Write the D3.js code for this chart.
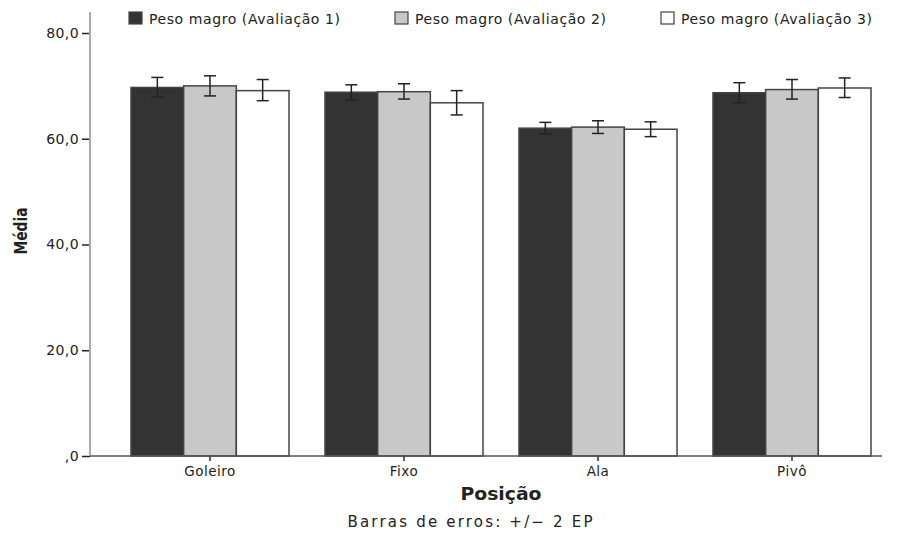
<!DOCTYPE html>
<html>
<head>
<meta charset="utf-8">
<script src="https://cdn.jsdelivr.net/npm/d3@7"></script>
<style>
  html, body { margin: 0; padding: 0; background: #fff; }
  svg { display: block; }
  text { font-family: "DejaVu Sans", Verdana, sans-serif; fill: #222; }
</style>
</head>
<body>
<svg id="chart" width="899" height="536"></svg>
<script>
// Positions (categories) and assessments (series)
const categories = ["Goleiro", "Fixo", "Ala", "Pivô"];
const series = ["Peso magro (Avaliação 1)", "Peso magro (Avaliação 2)", "Peso magro (Avaliação 3)"];

// Mean lean mass per position, one array per assessment
const meansA1 = [69.7, 68.8, 62.0, 68.7];
const meansA2 = [70.0, 68.9, 62.2, 69.3];
const meansA3 = [69.1, 66.8, 61.8, 69.6];

// Error bar bounds (mean ± 2 SE)
const lowA1 = [67.9, 67.3, 60.9, 66.8];
const highA1 = [71.6, 70.2, 63.1, 70.6];
const lowA2 = [68.1, 67.5, 61.0, 67.5];
const highA2 = [71.9, 70.4, 63.4, 71.2];
const lowA3 = [67.2, 64.5, 60.4, 67.8];
const highA3 = [71.2, 69.1, 63.2, 71.5];

const yTicks = [0, 20, 40, 60, 80];
const yTickLabels = [",0", "20,0", "40,0", "60,0", "80,0"];

const fills = ["#333333", "#c8c8c8", "#ffffff"];

const means = [meansA1, meansA2, meansA3];
const lows = [lowA1, lowA2, lowA3];
const highs = [highA1, highA2, highA3];

const rows = [];
categories.forEach((c, ci) => {
  series.forEach((s, si) => {
    rows.push({ cat: c, ser: s, si, mean: means[si][ci], lo: lows[si][ci], hi: highs[si][ci] });
  });
});

const svg = d3.select("#chart");

const y = d3.scaleLinear().domain([0, 80]).range([456, 33]);
const x0 = d3.scaleBand().domain(categories).range([113, 889]).padding(0);
const groupW = 158;
const x1 = d3.scaleBand().domain(series).range([0, groupW]).padding(0);
const xPos = d => x0(d.cat) + (x0.bandwidth() - groupW) / 2 + x1(d.ser);

// Bars
svg.append("g").selectAll("rect").data(rows).join("rect")
  .attr("x", xPos)
  .attr("y", d => y(d.mean))
  .attr("width", x1.bandwidth())
  .attr("height", d => y(0) - y(d.mean))
  .attr("fill", d => fills[d.si])
  .attr("stroke", "#444")
  .attr("stroke-width", 1.5);

// Error bars
const eg = svg.append("g").attr("stroke", "#222").attr("stroke-width", 1.5);
const cx = d => xPos(d) + x1.bandwidth() / 2;
eg.selectAll("line.v").data(rows).join("line").attr("class", "v")
  .attr("x1", cx).attr("x2", cx)
  .attr("y1", d => y(d.hi)).attr("y2", d => y(d.lo));
eg.selectAll("line.t").data(rows).join("line").attr("class", "t")
  .attr("x1", d => cx(d) - 6).attr("x2", d => cx(d) + 6)
  .attr("y1", d => y(d.hi)).attr("y2", d => y(d.hi));
eg.selectAll("line.b").data(rows).join("line").attr("class", "b")
  .attr("x1", d => cx(d) - 6).attr("x2", d => cx(d) + 6)
  .attr("y1", d => y(d.lo)).attr("y2", d => y(d.lo));

// Y axis
const yAxis = d3.axisLeft(y).tickValues(yTicks)
  .tickFormat((d, i) => yTickLabels[i]).tickSize(8).tickPadding(3);
const yg = svg.append("g").attr("transform", "translate(90,0)").call(yAxis);
yg.select(".domain").remove();
yg.selectAll(".tick line").attr("stroke", "#222").attr("stroke-width", 1.5);
yg.selectAll(".tick text").attr("font-size", 14).attr("letter-spacing", 0.4)
  .attr("font-family", "DejaVu Sans").attr("fill", "#222");
svg.append("line").attr("x1", 90).attr("x2", 90).attr("y1", 12).attr("y2", 456)
  .attr("stroke", "#aaa").attr("stroke-width", 2);

// X axis
const xAxis = d3.axisBottom(x0).tickSize(6).tickPadding(4);
const xg = svg.append("g").attr("transform", "translate(0,456)").call(xAxis);
xg.select(".domain").remove();
xg.selectAll(".tick line").attr("stroke", "#333").attr("stroke-width", 1.5).attr("y1", -1).attr("y2", 5);
xg.selectAll(".tick text").attr("font-size", 13.5).attr("letter-spacing", 0.5)
  .attr("font-family", "DejaVu Sans").attr("fill", "#222");

svg.append("line").attr("x1", 90).attr("x2", 882).attr("y1", 456).attr("y2", 456)
  .attr("stroke", "#555").attr("stroke-width", 1.5);

// Axis titles
svg.append("text").attr("transform", "translate(27,231) rotate(-90)")
  .attr("text-anchor", "middle").attr("font-size", 17).attr("font-weight", "bold")
  .attr("textLength", 47).attr("lengthAdjust", "spacingAndGlyphs")
  .text("Média");
svg.append("text").attr("x", 501).attr("y", 500).attr("text-anchor", "middle")
  .attr("font-size", 18).attr("font-weight", "bold")
  .attr("textLength", 81).attr("lengthAdjust", "spacingAndGlyphs").text("Posição");
svg.append("text").attr("x", 470).attr("y", 527).attr("text-anchor", "middle")
  .attr("font-size", 15).attr("textLength", 245).attr("lengthAdjust", "spacing")
  .text("Barras de erros: +/− 2 EP");

// Legend
const legendX = [129, 395, 661];
const lg = svg.append("g").selectAll("g").data(series).join("g")
  .attr("transform", (d, i) => `translate(${legendX[i]},12)`);
lg.append("rect").attr("width", 13).attr("height", 12)
  .attr("fill", (d, i) => fills[i]).attr("stroke", "#444").attr("stroke-width", 1.2);
lg.append("text").attr("x", 20).attr("y", 11.5).attr("font-size", 14)
  .attr("textLength", 191).attr("lengthAdjust", "spacing").text(d => d);
</script>
</body>
</html>
